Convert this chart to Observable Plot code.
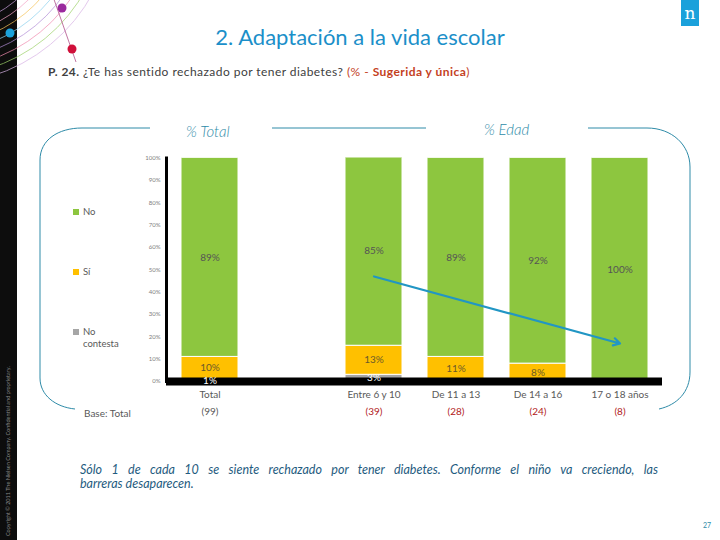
<!DOCTYPE html>
<html>
<head>
<meta charset="utf-8">
<script src="https://cdn.jsdelivr.net/npm/d3@7"></script>
<script src="https://cdn.jsdelivr.net/npm/@observablehq/plot@0.6"></script>
<style>
  html, body { margin: 0; padding: 0; background: #fff; }
  #page { position: relative; width: 720px; height: 540px; overflow: hidden; background: #fff; font-family: Lato, "Open Sans", sans-serif; }
  .abs { position: absolute; white-space: nowrap; }
  #chart { position: absolute; left: 0; top: 0; z-index: 1; }
  #deco { position: absolute; left: 0; top: 0; z-index: 0; }
  .leg { position: absolute; font-size: 9.5px; color: #595959; line-height: 12px; }
  .sw { display: inline-block; width: 6px; height: 6px; margin-right: 4px; vertical-align: 0px; }
</style>
</head>
<body>
<div id="page">
  <svg id="deco" width="720" height="540">
    <rect x="0" y="0" width="17" height="540" fill="#0d0d0d"/>
    <g fill="none" stroke-width="1" opacity="0.7">
      <circle cx="-60" cy="-90" r="118" stroke="#c9a0dc"/>
      <circle cx="-60" cy="-90" r="126" stroke="#f4a6c8"/>
      <circle cx="-60" cy="-90" r="134" stroke="#f7c55a"/>
      <circle cx="-60" cy="-90" r="142" stroke="#8fd3f0"/>
      <circle cx="-60" cy="-90" r="150" stroke="#b48fd8"/>
      <circle cx="-60" cy="-90" r="158" stroke="#f28cb0"/>
      <circle cx="-60" cy="-90" r="166" stroke="#9ed36a"/>
      <circle cx="-60" cy="-90" r="174" stroke="#d9b3e6"/>
    </g>
    <line x1="50" y1="-12" x2="76" y2="62" stroke="#b0508a" stroke-width="0.8"/>
    <circle cx="62" cy="8" r="4.5" fill="#9b2a9d"/>
    <circle cx="10" cy="33" r="4.5" fill="#1ba1db"/>
    <circle cx="72" cy="49" r="4.5" fill="#d0103a"/>
    <text transform="translate(10,536) rotate(-90)" font-size="5.5" fill="#8a8a8a" font-family="Lato, sans-serif">Copyright © 2011 The Nielsen Company. Confidential and proprietary.</text>
    <rect x="681" y="0" width="18" height="26" fill="#1ba1db"/>
    <text x="690" y="19" text-anchor="middle" font-size="17" fill="#fff" font-family="'DejaVu Serif', serif">n</text>
    <g fill="none" stroke="#2e8ba8" stroke-width="1">
      <path d="M150,128 H82 C58,128 40,140 40,160 V378 C40,395 55,407 75,409"/>
      <path d="M272,128 H426"/>
      <path d="M588,128 H647 C672,128 690,145 690,167 V372 C690,392 677,405 659,409"/>
    </g>
    <text x="703" y="528" font-size="7" fill="#2e8ba8" font-family="Lato, sans-serif">27</text>
  </svg>

  <div class="abs" style="left:0; width:720px; top:23px; text-align:center; font-size:22px; line-height:28px; color:#1b8fc9;">2. Adaptación a la vida escolar</div>
  <div class="abs" style="left:48px; top:64px; font-size:12px; line-height:16px; letter-spacing:0.45px; color:#404040;"><b>P. 24.</b> ¿Te has sentido rechazado por tener diabetes? <span style="color:#c4411e">(% - <b>Sugerida y única</b>)</span></div>

  <div class="abs" style="left:186px; top:122px; font-size:15px; font-style:italic; font-weight:300; color:#2e8ba8;">% Total</div>
  <div class="abs" style="left:484px; top:120px; font-size:15px; font-style:italic; font-weight:300; color:#2e8ba8;">% Edad</div>

  <div class="leg" style="left:73px; top:206px;"><span class="sw" style="background:#8dc63f"></span>No</div>
  <div class="leg" style="left:73px; top:266px;"><span class="sw" style="background:#ffc000"></span>Sí</div>
  <div class="leg" style="left:73px; top:326px;"><span class="sw" style="background:#a6a6a6"></span>No<br><span style="padding-left:10px">contesta</span></div>

  <div class="abs" style="left:84px; top:407px; font-size:10px; color:#595959;">Base: Total</div>

  <div class="abs" style="left:80px; top:463px; width:578px; white-space:normal; font-size:12.5px; line-height:13.5px; font-style:italic; color:#1f5c80;">
    <div style="text-align:justify; text-align-last:justify;">Sólo 1 de cada 10 se siente rechazado por tener diabetes. Conforme el niño va creciendo, las</div>
    <div>barreras desaparecen.</div>
  </div>

  <div id="chart"></div>
</div>
<script>
const categories = ["Total", "Entre 6 y 10", "De 11 a 13", "De 14 a 16", "17 o 18 años"];
const noPct = [89, 85, 89, 92, 100];
const siPct = [10, 13, 11, 8, 0];
const ncPct = [1, 3, 0, 0, 0];
const baseN = [99, 39, 28, 24, 8];
const responses = ["No contesta", "Sí", "No"];
const responseColors = ["#a6a6a6", "#ffc000", "#8dc63f"];
const yTicks = [0, 10, 20, 30, 40, 50, 60, 70, 80, 90, 100];
const trendCats = ["Entre 6 y 10", "17 o 18 años"];
const trendValues = [47, 17];

const gap = " ";
const xDomain = [categories[0], gap, ...categories.slice(1)];

const rows = categories.flatMap((c, i) => [
  {cat: c, resp: "No contesta", value: ncPct[i]},
  {cat: c, resp: "Sí", value: siPct[i]},
  {cat: c, resp: "No", value: noPct[i]}
]);
const bases = categories.map((c, i) => ({cat: c, n: baseN[i]}));
const trend = [{x1: trendCats[0], y1: trendValues[0], x2: trendCats[1], y2: trendValues[1]}];

const stackText = (resp, fill) => Plot.text(rows, Plot.stackY({
  x: "cat", y: "value", z: "resp",
  text: d => d.resp === resp && d.value > 0 ? d.value + "%" : null,
  fill, fontSize: 10
}));

const chart = Plot.plot({
  width: 720,
  height: 540,
  marginLeft: 166,
  marginRight: 58,
  marginTop: 157.5,
  marginBottom: 159,
  style: {fontFamily: "Lato, sans-serif", fontSize: "10px", background: "transparent", overflow: "visible"},
  x: {domain: xDomain, paddingInner: 0.31, paddingOuter: 0.17},
  y: {domain: [0, 100]},
  color: {domain: responses, range: responseColors},
  marks: [
    Plot.barY(rows, {x: "cat", y: "value", fill: "resp", stroke: "white", strokeWidth: 1, clip: true}),
    Plot.ruleY([0], {stroke: "black", strokeWidth: 8}),
    Plot.frame({anchor: "left", stroke: "black", strokeWidth: 3}),
    Plot.axisY(yTicks, {tickFormat: d => d + "%", tickSize: 0, tickPadding: 6, fontSize: 6, color: "#808080", label: null}),
    Plot.axisX({tickSize: 0, tickPadding: 9, tickFormat: d => d.trim(), fontSize: 10, color: "#595959", label: null}),
    stackText("No", "#555555"),
    stackText("Sí", "#6b5a2a"),
    stackText("No contesta", "white"),
    Plot.text(bases, {x: "cat", text: d => `(${d.n})`, frameAnchor: "bottom", dy: 33, fill: "#595959", fontSize: 10, filter: d => d.cat === "Total"}),
    Plot.text(bases, {x: "cat", text: d => `(${d.n})`, frameAnchor: "bottom", dy: 33, fill: "#b22222", fontSize: 10, filter: d => d.cat !== "Total"}),
    Plot.arrow(trend, {x1: "x1", y1: "y1", x2: "x2", y2: "y2", stroke: "#2196c4", strokeWidth: 2.2, headLength: 5, bend: 0})
  ]
});
document.getElementById("chart").appendChild(chart);
</script>
</body>
</html>
